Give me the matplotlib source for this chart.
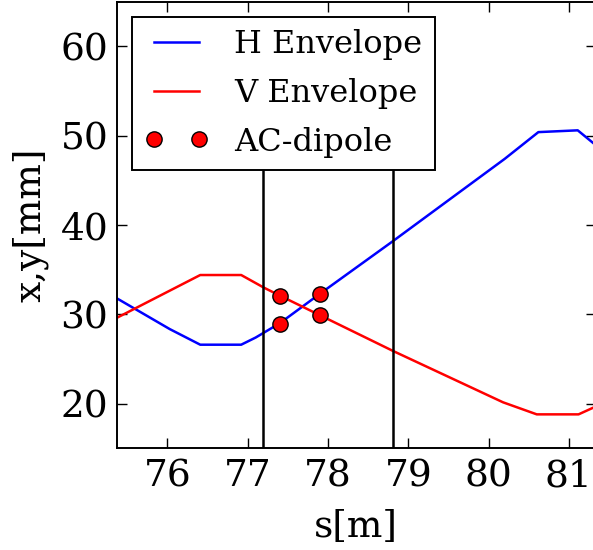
import matplotlib
matplotlib.use('Agg')
import matplotlib.pyplot as plt

# envelope data
s_h = [75.37, 76.03, 76.41, 76.92, 77.1, 77.4, 77.9, 78.81, 79.52, 80.2, 80.62, 81.11, 81.34]
h_env = [31.8, 28.35, 26.6, 26.6, 27.4, 29.0, 32.3, 38.2, 42.9, 47.4, 50.4, 50.6, 48.9]
s_v = [75.37, 76.41, 76.92, 77.2, 77.4, 77.9, 78.81, 80.18, 80.6, 81.12, 81.34]
v_env = [29.6, 34.4, 34.4, 33.0, 32.1, 29.9, 25.9, 20.15, 18.8, 18.8, 19.7]
ac_s = [77.40, 77.40, 77.90, 77.90]
ac_y = [32.07, 28.94, 32.22, 29.91]
vlines = [77.195, 78.81]

plt.rcParams['font.family'] = 'DejaVu Serif'

fig = plt.figure(figsize=(5.93, 5.5), dpi=100)
ax = fig.add_axes([0.1968, 0.1849, 0.8082, 0.812])

ax.plot(s_h, h_env, color='blue', lw=1.8, label='H Envelope')
ax.plot(s_v, v_env, color='red', lw=1.8, label='V Envelope')
for x in vlines:
    # the lines stop underneath the legend box
    ax.plot([x, x], [15, 55], color='black', lw=1.8)
ax.plot(ac_s, ac_y, 'o', color='red', mec='black', mew=1, ms=11,
        linestyle='none', label='AC-dipole')

ax.set_xlim(75.37, 81.337)
ax.set_ylim(15, 65)
ax.set_xticks([76, 77, 78, 79, 80, 81])
ax.set_yticks([20, 30, 40, 50, 60])
ax.tick_params(direction='in', top=True, right=True, length=7, width=1,
               labelsize=27, pad=7)
ax.tick_params(axis='y', pad=6)
for sp in ax.spines.values():
    sp.set_linewidth(1.4)

ax.set_xlabel('s[m]', fontsize=27, labelpad=11)
ax.set_ylabel('x,y[mm]', fontsize=27, labelpad=9)

leg = ax.legend(loc='upper left', fontsize=23, numpoints=2, fancybox=False,
                handlelength=2.0, handletextpad=0.8, framealpha=1,
                edgecolor='black', borderaxespad=0.47, labelspacing=0.55)
leg.get_frame().set_linewidth(1.4)
leg.set_zorder(5)

fig.savefig('out.png', dpi=100)
